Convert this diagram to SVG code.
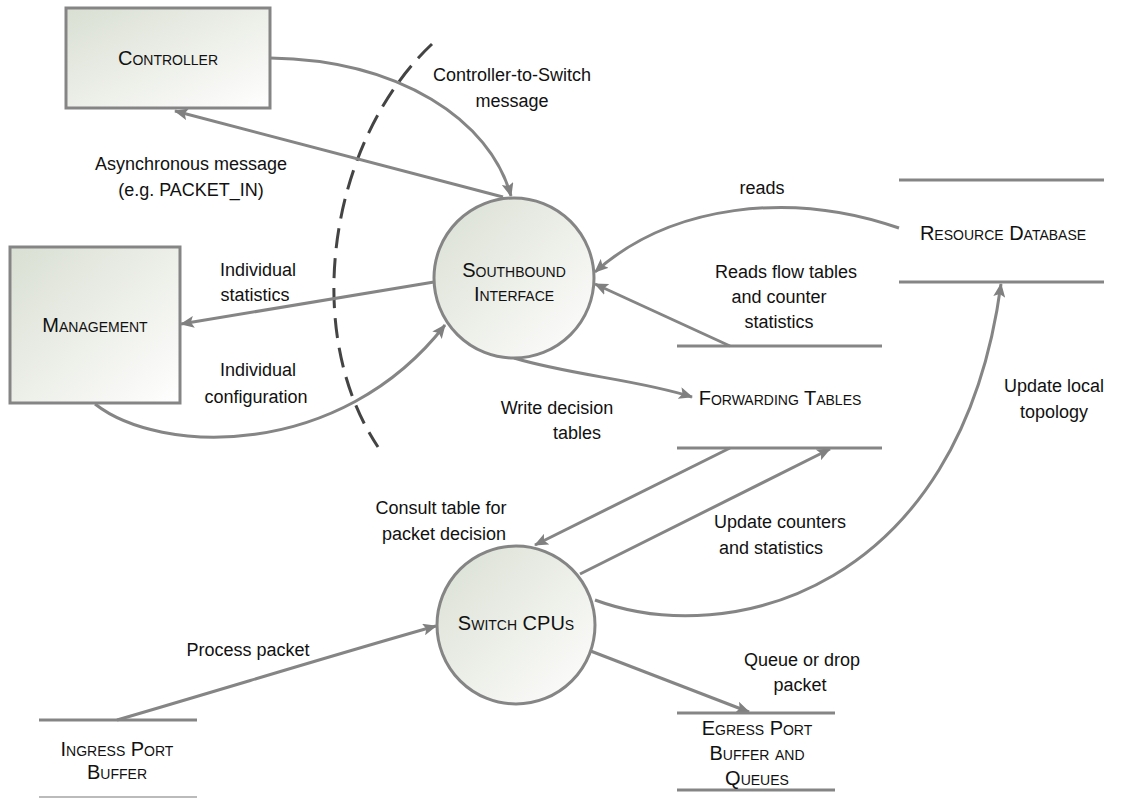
<svg xmlns="http://www.w3.org/2000/svg" width="1129" height="798" viewBox="0 0 1129 798">
  <defs>
    <linearGradient id="shade" x1="0" y1="0" x2="1" y2="1">
      <stop offset="0" stop-color="#d9dfd3"/>
      <stop offset="0.55" stop-color="#eef0ea"/>
      <stop offset="1" stop-color="#ffffff"/>
    </linearGradient>
    <marker id="arrow" viewBox="0 0 14 12" refX="13" refY="6" markerWidth="14" markerHeight="12" markerUnits="userSpaceOnUse" orient="auto">
      <path d="M0,0 L14,6 L0,12 L3,6 Z" fill="#808080"/>
    </marker>
    <style>
      .box { fill: url(#shade); stroke: #858585; stroke-width: 3; }
      .store { stroke: #858585; stroke-width: 3; fill: none; }
      .conn { stroke: #858585; stroke-width: 3; fill: none; marker-end: url(#arrow); }
      .node { font-family: "Liberation Sans", Arial, sans-serif; font-size: 20px; font-variant: small-caps; fill: #111; text-anchor: middle; }
      .lbl { font-family: "Liberation Sans", Arial, sans-serif; font-size: 18px; fill: #111; text-anchor: middle; }
    </style>
  </defs>

  <rect width="1129" height="798" fill="#ffffff"/>

  <!-- boundary between controller side and switch side -->
  <path d="M432,44 C 330,140 300,330 378,447" fill="none" stroke="#444" stroke-width="3" stroke-dasharray="20,10"/>

  <g id="connectors">
    <path class="conn" d="M270,58 C 400,60 490,120 511,196"/>
    <path class="conn" d="M503,197 L175,111"/>
    <path class="conn" d="M434,282 L181,324"/>
    <path class="conn" d="M95,404 C 160,455 340,460 445,325"/>
    <path class="conn" d="M899,228 C 790,190 670,205 595,272"/>
    <path class="conn" d="M730,346 L595,284"/>
    <path class="conn" d="M514,358 C 570,375 640,380 692,397"/>
    <path class="conn" d="M730,448 L535,545"/>
    <path class="conn" d="M580,574 L830,449"/>
    <path class="conn" d="M595,600 C 730,650 960,590 1001,284"/>
    <path class="conn" d="M117,720 C 220,690 350,650 436,626"/>
    <path class="conn" d="M588,650 L749,712"/>
  </g>

  <g id="controller">
    <rect class="box" x="66" y="8" width="204" height="100"/>
    <text class="node" x="168" y="65">Controller</text>
  </g>

  <g id="management">
    <rect class="box" x="10" y="247" width="170" height="156"/>
    <text class="node" x="95" y="332">Management</text>
  </g>

  <g id="southbound">
    <circle class="box" cx="514" cy="278" r="80"/>
    <text class="node" x="514" y="277">Southbound</text>
    <text class="node" x="514" y="301">Interface</text>
  </g>

  <g id="switch-cpus">
    <circle class="box" cx="516" cy="625" r="79"/>
    <text class="node" x="516" y="630">Switch CPUs</text>
  </g>

  <g id="resource-db">
    <line class="store" x1="899" y1="180" x2="1104" y2="180"/>
    <line class="store" x1="899" y1="282" x2="1104" y2="282"/>
    <text class="node" x="1003" y="240">Resource Database</text>
  </g>

  <g id="forwarding-tables">
    <line class="store" x1="677" y1="346" x2="882" y2="346"/>
    <line class="store" x1="677" y1="448" x2="882" y2="448"/>
    <text class="node" x="780" y="405">Forwarding Tables</text>
  </g>

  <g id="egress">
    <line class="store" x1="677" y1="713" x2="835" y2="713"/>
    <line class="store" x1="677" y1="790" x2="835" y2="790"/>
    <text class="node" x="757" y="735">Egress Port</text>
    <text class="node" x="757" y="760">Buffer and</text>
    <text class="node" x="757" y="785">Queues</text>
  </g>

  <g id="ingress">
    <line class="store" x1="39" y1="720" x2="197" y2="720"/>
    <line x1="39" y1="797" x2="197" y2="797" stroke="#bbb" stroke-width="2"/>
    <text class="node" x="117" y="756">Ingress Port</text>
    <text class="node" x="117" y="779">Buffer</text>
  </g>

  <g id="labels">
    <text class="lbl" x="512" y="81">Controller-to-Switch</text>
    <text class="lbl" x="512" y="107">message</text>
    <text class="lbl" x="191" y="170">Asynchronous message</text>
    <text class="lbl" x="191" y="196">(e.g. PACKET_IN)</text>
    <text class="lbl" x="258" y="276">Individual</text>
    <text class="lbl" x="255" y="301">statistics</text>
    <text class="lbl" x="258" y="376">Individual</text>
    <text class="lbl" x="256" y="403">configuration</text>
    <text class="lbl" x="762" y="194">reads</text>
    <text class="lbl" x="786" y="278">Reads flow tables</text>
    <text class="lbl" x="779" y="303">and counter</text>
    <text class="lbl" x="779" y="328">statistics</text>
    <text class="lbl" x="1054" y="392">Update local</text>
    <text class="lbl" x="1054" y="418">topology</text>
    <text class="lbl" x="557" y="414">Write decision</text>
    <text class="lbl" x="577" y="439">tables</text>
    <text class="lbl" x="441" y="514">Consult table for</text>
    <text class="lbl" x="444" y="540">packet decision</text>
    <text class="lbl" x="780" y="528">Update counters</text>
    <text class="lbl" x="771" y="554">and statistics</text>
    <text class="lbl" x="248" y="656">Process packet</text>
    <text class="lbl" x="802" y="666">Queue or drop</text>
    <text class="lbl" x="800" y="691">packet</text>
  </g>
</svg>
